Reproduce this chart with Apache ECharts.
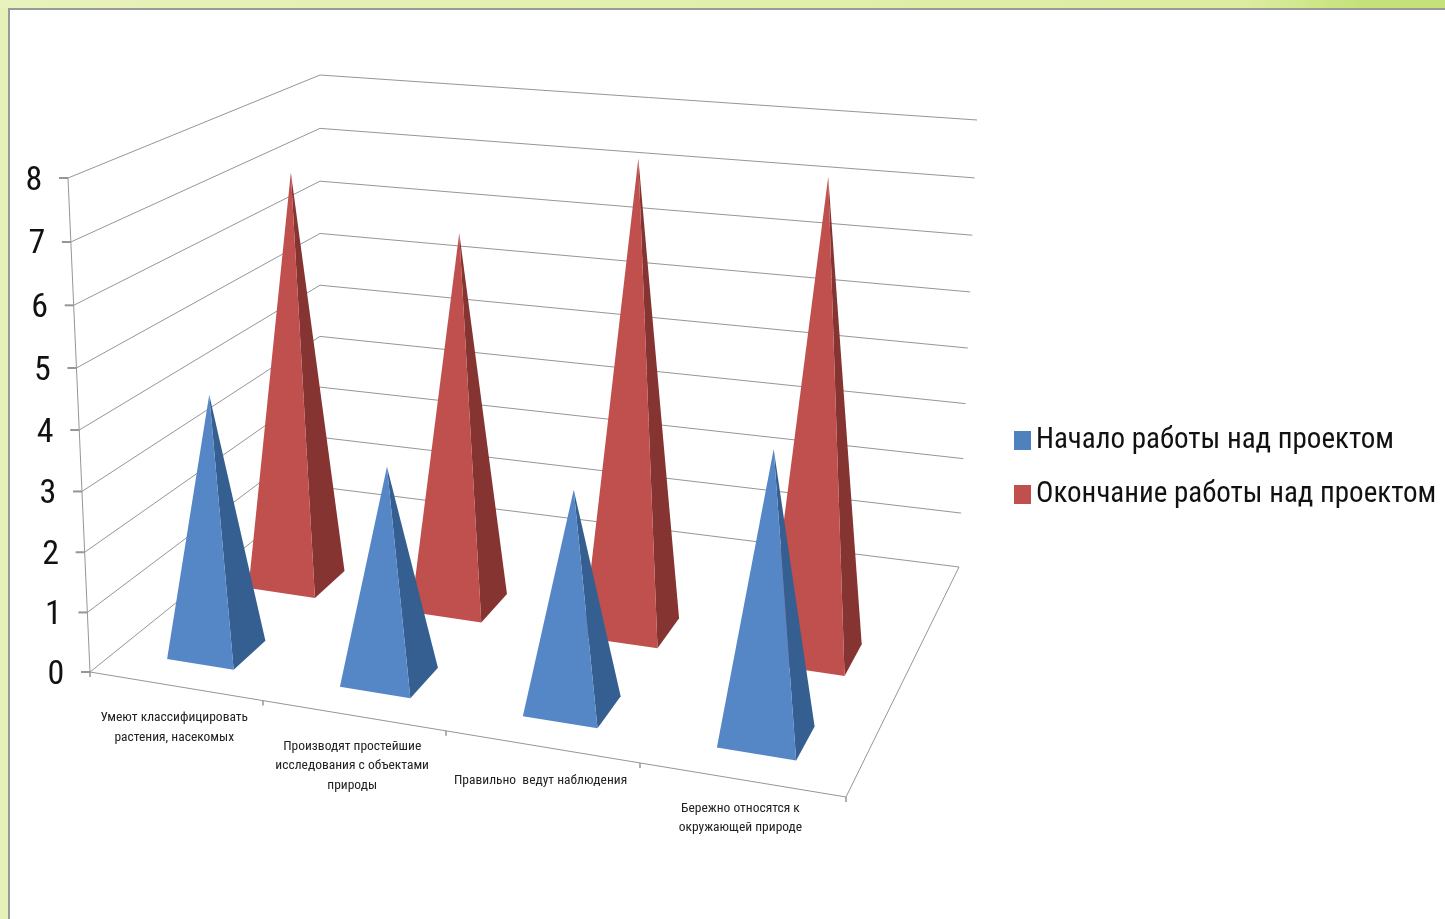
<!DOCTYPE html>
<html><head><meta charset="utf-8">
<style>html,body{margin:0;padding:0;background:#fff}#c{width:1445px;height:919px}</style>
<script src="https://cdn.jsdelivr.net/npm/echarts@6/dist/echarts.min.js"></script>
</head><body><div id="c"></div>
<script>
const categories = ["Умеют классифицировать\nрастения, насекомых","Производят простейшие\nисследования с объектами\nприроды","Правильно  ведут наблюдения","Бережно относятся к\nокружающей природе"];
const seriesStart = [4.31, 3.5, 3.53, 4.57];
const seriesEnd = [7.23, 6.47, 7.98, 7.95];
const yTicks = [0,1,2,3,4,5,6,7,8];
const nameStart = "Начало работы над проектом";
const nameEnd = "Окончание работы над проектом";

// plot geometry: the box of the hidden axes, and the 3D box it is warped onto
const G = {left:90, top:178, width:756, height:494};
const FL=[90,672], FR=[846,797], BL=[320,487], BR=[959,567];
const FLt=[68,178], FRt=[865,261], BLt=[320,75], BRt=[977,120];
const WARP=0.89, VWARP=0.96;
const labelNudge=[1,0,3,-2];
function lerp(a,b,t){return [a[0]+(b[0]-a[0])*t,a[1]+(b[1]-a[1])*t];}
function project(u,z,t){
  const w=WARP*u/(1+(WARP-1)*u);
  const h=VWARP*t/(1+(VWARP-1)*t);
  const bot=lerp(lerp(FL,FR,w),lerp(BL,BR,w),z);
  const top=lerp(lerp(FLt,FRt,w),lerp(BLt,BRt,w),z);
  return lerp(bot,top,h);
}
function norm(api,cat,val){
  const p=api.coord([cat,val]);
  return [(p[0]-G.left)/G.width,(G.top+G.height-p[1])/G.height];
}
function pyramid(zc,hz,hu,light,dark){
  return function(params,api){
    const n=norm(api,api.value(0),api.value(1));
    const u=n[0];
    const a=project(u-hu,zc-hz,0),b=project(u+hu,zc-hz,0),c=project(u+hu,zc+hz,0),tip=project(u,zc,n[1]);
    return {type:'group',children:[
      {type:'polygon',shape:{points:[b,c,tip]},style:{fill:dark}},
      {type:'polygon',shape:{points:[a,b,tip]},style:{fill:light}}
    ]};
  };
}
const GRID='#969696';
function line(p,q,w){return {type:'line',shape:{x1:p[0],y1:p[1],x2:q[0],y2:q[1]},style:{stroke:GRID,lineWidth:w||1,fill:null}};}
function frame(params,api){
  const v=api.value(0);
  const t=norm(api,0,v)[1];
  const a=project(0,0,t),b=project(0,1,t),c=project(1,1,t);
  const kids=[line(a,b),line(b,c),line([a[0]-9,a[1]],a,2),
    {type:'text',style:{text:String(v),x:a[0]-34,y:a[1]+3,font:'condensed 34px Roboto',fill:'#111',align:'center',verticalAlign:'middle'}}];
  if(v===0){
    kids.push(line(FL,FR),line(FR,BR),line(FL,FLt));
    [0,1,2,3,4].forEach(function(i){const p=project(i/4,0,0);kids.push(line(p,[p[0],p[1]+5],1.5));});
  }
  return {type:'group',children:kids};
}
function catLabel(params,api){
  const i=api.value(0);
  const u=norm(api,i,0)[0];
  const p=project(u,0,0);
  return {type:'text',style:{text:categories[i],x:p[0]-1,y:p[1]+21+labelNudge[i],font:'condensed 13.5px Roboto',fill:'#222',align:'center',verticalAlign:'top',lineHeight:19.5}};
}
const chart=echarts.init(document.getElementById('c'));
chart.setOption({
  animation:false,
  backgroundColor:'#fff',
  grid:G,
  xAxis:{type:'category',data:categories,show:false},
  yAxis:{type:'value',min:0,max:8,interval:1,show:false},
  legend:{left:1009,top:421,orient:'vertical',itemWidth:17,itemHeight:19,itemGap:25,icon:'rect',selectedMode:false,
    data:[nameStart,nameEnd],
    textStyle:{fontSize:29,color:'#111',fontWeight:'condensed',fontFamily:'Roboto'}},
  graphic:[
    {type:'rect',silent:true,z:-5,shape:{x:0,y:0,width:1445,height:8},style:{fill:new echarts.graphic.LinearGradient(0,0,1,0,[{offset:0,color:'#e8f2bc'},{offset:0.86,color:'#dcedA0'},{offset:0.94,color:'#c5e27a'},{offset:1,color:'#c5e27a'}])}},
    {type:'rect',silent:true,z:-5,shape:{x:0,y:8,width:8,height:911},style:{fill:'#e6f1ba'}},
    {type:'rect',silent:true,z:-4,shape:{x:8,y:8,width:1437,height:2},style:{fill:'#999'}},
    {type:'rect',silent:true,z:-4,shape:{x:8,y:8,width:2,height:911},style:{fill:'#999'}}
  ],
  series:[
    {type:'custom',name:'frame',silent:true,z:1,coordinateSystem:'cartesian2d',data:yTicks.map(v=>[v]),encode:{y:0},renderItem:frame,clip:false},
    {type:'custom',name:'labels',silent:true,z:1,coordinateSystem:'cartesian2d',data:categories.map((c,i)=>[i]),encode:{x:0},renderItem:catLabel,clip:false},
    {type:'custom',name:nameEnd,silent:true,z:2,itemStyle:{color:'#c0504d'},coordinateSystem:'cartesian2d',data:seriesEnd.map((v,i)=>[i,v]),encode:{x:0,y:1},renderItem:pyramid(0.56,0.07,0.052,'#c0504d','#853431'),clip:false},
    {type:'custom',name:nameStart,silent:true,z:3,itemStyle:{color:'#4f81bd'},coordinateSystem:'cartesian2d',data:seriesStart.map((v,i)=>[i,v]),encode:{x:0,y:1},renderItem:pyramid(0.19,0.075,0.049,'#5587c6','#345f90'),clip:false}
  ]
});
</script></body></html>
